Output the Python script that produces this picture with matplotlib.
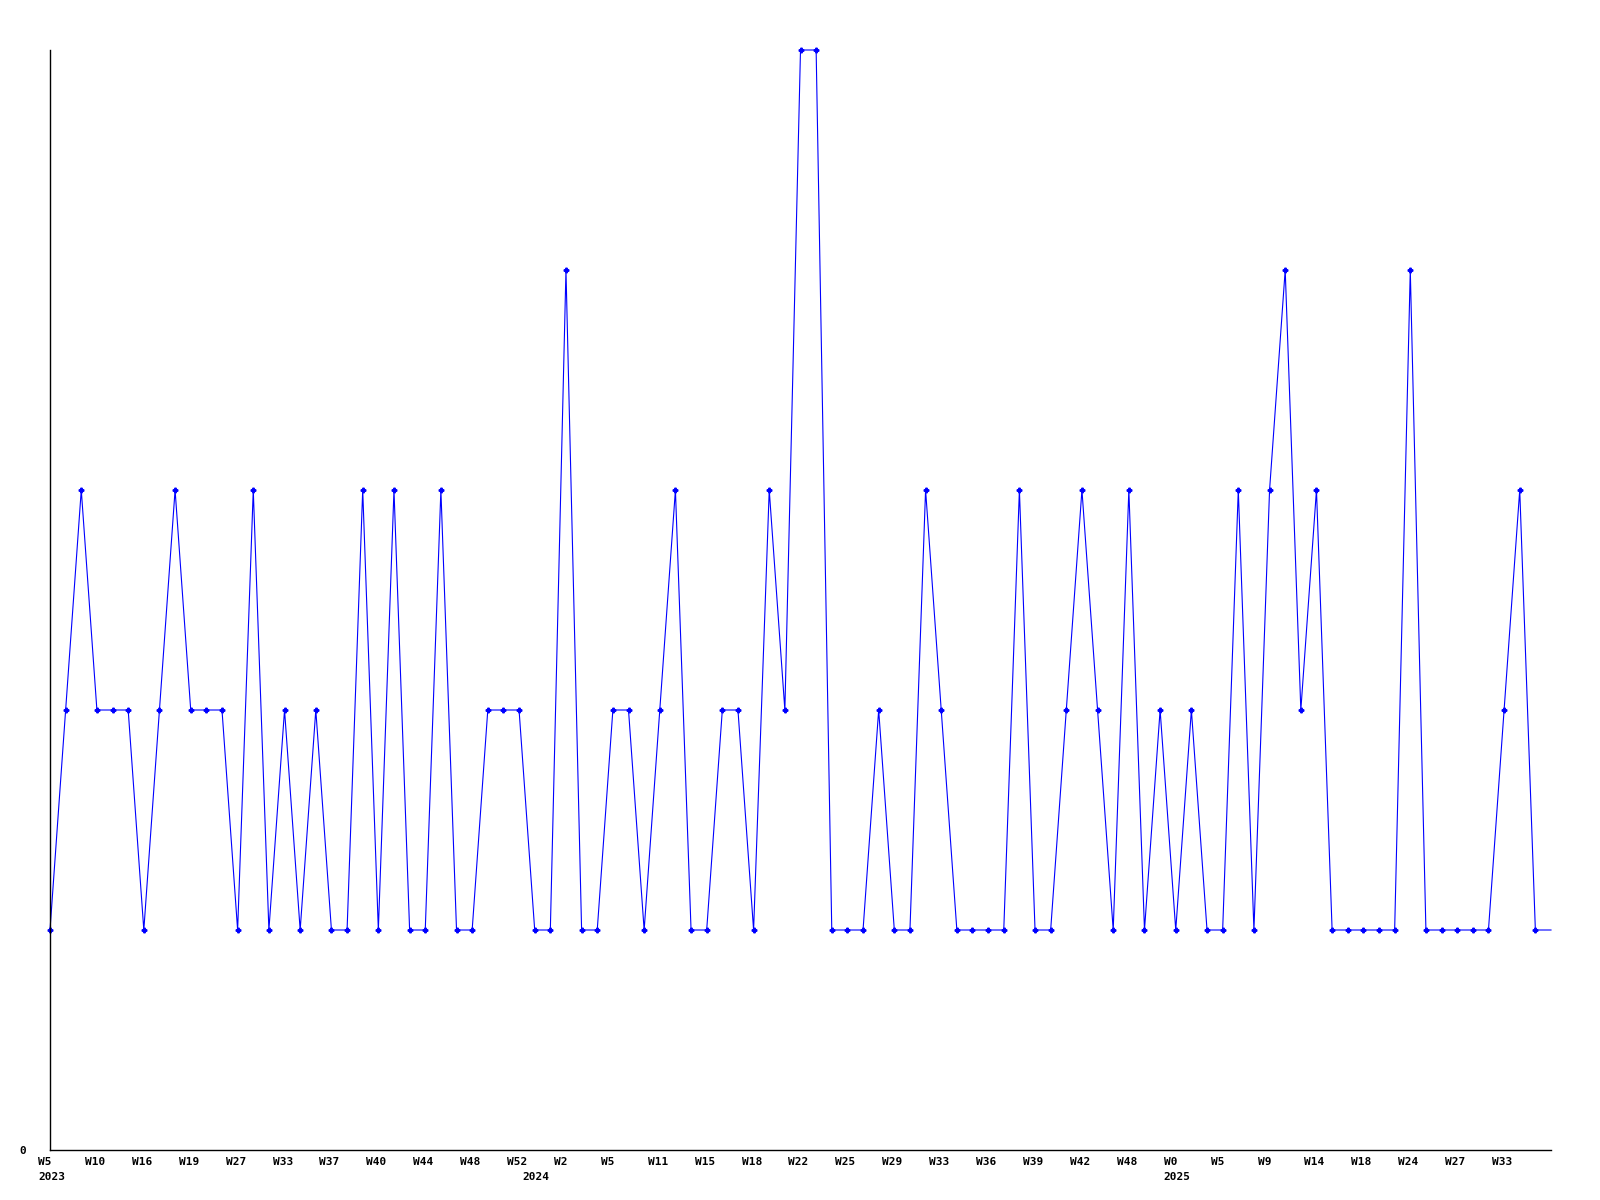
import matplotlib
matplotlib.use("Agg")
import matplotlib.pyplot as plt
from matplotlib.transforms import ScaledTranslation

# ---- data ----
values = [1, 2, 3, 2, 2, 2, 1, 2, 3, 2, 2, 2, 1, 3, 1, 2, 1, 2, 1, 1,
          3, 1, 3, 1, 1, 3, 1, 1, 2, 2, 2, 1, 1, 4, 1, 1, 2, 2, 1, 2,
          3, 1, 1, 2, 2, 1, 3, 2, 5, 5, 1, 1, 1, 2, 1, 1, 3, 2, 1, 1,
          1, 1, 3, 1, 1, 2, 3, 2, 1, 3, 1, 2, 1, 2, 1, 1, 3, 1, 3, 4,
          2, 3, 1, 1, 1, 1, 1, 4, 1, 1, 1, 1, 1, 2, 3, 1, 1]
week_labels = ["W5", "W10", "W16", "W19", "W27", "W33", "W37", "W40", "W44",
               "W48", "W52", "W2", "W5", "W11", "W15", "W18", "W22", "W25",
               "W29", "W33", "W36", "W39", "W42", "W48", "W0", "W5", "W9",
               "W14", "W18", "W24", "W27", "W33"]
label_every = 3
year_labels = ["2023", "2024", "2025"]
year_start_index = [0, 31, 72]
y_max = 5

# ---- plot ----
fig = plt.figure(figsize=(16, 12), dpi=100)
ax = fig.add_axes([50 / 1600, 1 - 1150 / 1200, 1501 / 1600, 1100 / 1200])

x = list(range(len(values)))
ax.plot(x, values, color="#0000ff", linewidth=0.8, marker="P", markersize=3.3,
        markevery=list(range(len(values) - 1)), clip_on=False)

ax.set_xlim(0, len(values) - 1)
ax.set_ylim(0, y_max)

for s in ("top", "right"):
    ax.spines[s].set_visible(False)
for s in ("left", "bottom"):
    ax.spines[s].set_color("black")
    ax.spines[s].set_linewidth(1.0)

font = dict(family="DejaVu Sans Mono", weight="bold", size=8)

ax.set_yticks([0])
ax.set_yticklabels(["0"], **font)
ax.tick_params(axis="y", length=0, pad=17)

ax.xaxis.remove_overlapping_locs = False
ax.set_xticks(x[::label_every][:len(week_labels)])
ax.set_xticklabels(week_labels, ha="left", **font)
ax.set_xticks(year_start_index, minor=True)
ax.set_xticklabels(year_labels, minor=True, ha="left", **font)
ax.tick_params(axis="x", which="major", length=0, pad=5)
ax.tick_params(axis="x", which="minor", length=0, pad=16)

offset = ScaledTranslation(-12 / 100, 0, fig.dpi_scale_trans)
for lbl in ax.get_xticklabels(which="both"):
    lbl.set_transform(lbl.get_transform() + offset)

fig.savefig("out.png", dpi=100, facecolor="white")
